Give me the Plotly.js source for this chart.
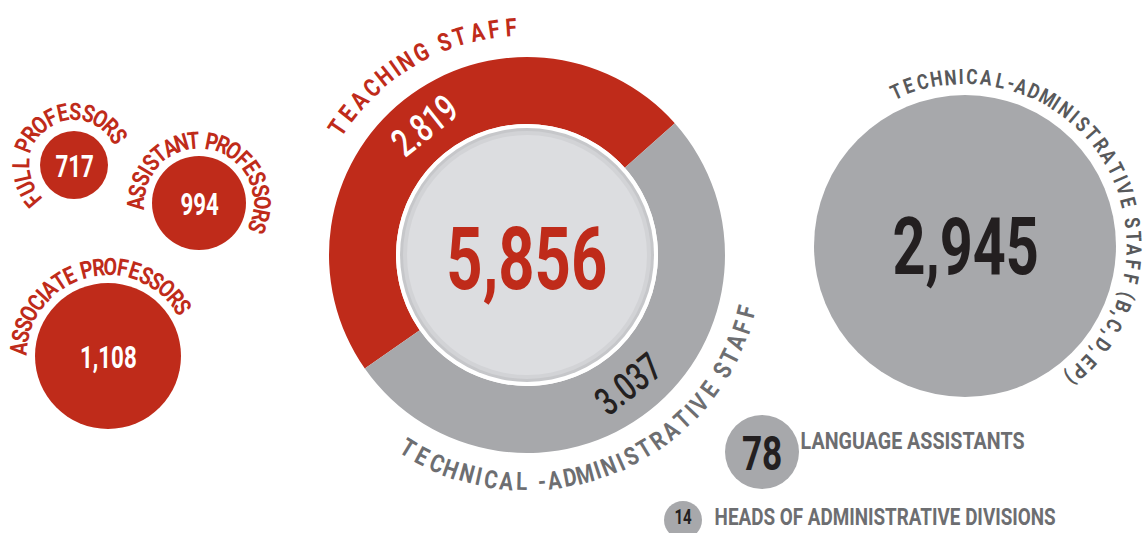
<!DOCTYPE html>
<html>
<head>
<meta charset="utf-8">
<script src="https://cdn.plot.ly/plotly-3.0.1.min.js"></script>
<style>
html,body{margin:0;padding:0;background:#fff;}
#chart{width:1147px;height:533px;}
/* condense all annotation text (DIN-condensed look) */
#chart .annotation-text{transform-box:fill-box;transform-origin:center;transform:scaleX(0.72);}
</style>
</head>
<body>
<div id="chart"></div>
<script>
// ---------------- data ----------------
const donutLabels = ['TEACHING STAFF', 'TECHNICAL -ADMINISTRATIVE STAFF'];
const donutValues = [2819, 3037];
const totalValue = 5856;

const teachingLabels = ['FULL PROFESSORS', 'ASSISTANT PROFESSORS', 'ASSOCIATE PROFESSORS'];
const teachingValues = [717, 994, 1108];

const techLabels = ['TECHNICAL-ADMINISTRATIVE STAFF (B,C,D,EP)', 'LANGUAGE ASSISTANTS', 'HEADS OF ADMINISTRATIVE DIVISIONS'];
const techValues = [2945, 78, 14];

// ---------------- layout / style ----------------
const W = 1147, H = 533;
const RED = '#bf2b1a', GRAY = '#a7a8ab', DARK = '#231f20', TXTGRAY = '#6d6e71';
const FONT = "Roboto, 'DejaVu Sans Condensed', sans-serif";
const LABEL_SCALE = 0.82;

const donut = {cx: 527, cy: 255, r: 198, hole: 131, inner: 127, rotation: -125, labelR: 165};
const teachPos = [{x: 74, y: 165, r: 34, fs: 31, ty: 166}, {x: 199, y: 203, r: 47, fs: 31, ty: 204}, {x: 108, y: 356, r: 73, fs: 31, ty: 357}];
const techPos = [{x: 965, y: 246, r: 151, fs: 80, ty: 247}, {x: 762, y: 452, r: 37, fs: 49, ty: 453}, {x: 683, y: 520, r: 19, fs: 21, ty: 517}];

const fmt = v => v.toLocaleString('en-US');
const fmtDot = v => v.toLocaleString('en-US').replace(/,/g, '.');

const annScale = [];
function ann(x, y, text, size, color, weight, angle, scale) {
  annScale.push(scale || null);
  return {x: x, y: y, xref: 'x', yref: 'y', text: text, showarrow: false, textangle: angle || 0,
    xanchor: 'center', yanchor: 'middle', borderpad: 0,
    font: {family: FONT, size: size, color: color, weight: weight}};
}

function arcLetters(str, cx, cy, r, a0, a1, size, color, inward, weight) {
  const chars = [...str];
  const w = chars.map(c => c === ' ' ? 0.45 : (/[I\.,\-\(\)1]/.test(c) ? 0.55 : 1));
  const pos = []; let acc = 0;
  for (let i = 0; i < w.length; i++) { pos.push(acc + w[i] / 2); acc += w[i]; }
  const first = pos[0], last = pos[pos.length - 1];
  const out = [];
  chars.forEach((c, i) => {
    if (c === ' ') return;
    const t = (pos[i] - first) / (last - first);
    const a = a0 + (a1 - a0) * t;
    const rad = a * Math.PI / 180;
    let ang = inward ? a - 180 : a;
    while (ang > 180) ang -= 360;
    while (ang < -180) ang += 360;
    out.push(ann(cx + r * Math.sin(rad), cy - r * Math.cos(rad), c, size, color, weight, ang, LABEL_SCALE));
  });
  return out;
}

let annotations = [];
// curved labels
annotations = annotations.concat(arcLetters(donutLabels[0], donut.cx, donut.cy, 228, -56, -4, 25, RED, false, 700));
annotations = annotations.concat(arcLetters(donutLabels[1], donut.cx, donut.cy, 227, 211.5, 104.5, 25, TXTGRAY, true, 700));
annotations = annotations.concat(arcLetters(teachingLabels[0], teachPos[0].x, teachPos[0].y, 53, -130.5, 57.5, 24, RED, false, 700));
annotations = annotations.concat(arcLetters(teachingLabels[1], teachPos[1].x, teachPos[1].y, 62.5, -90, 112.5, 24, RED, false, 700));
annotations = annotations.concat(arcLetters(teachingLabels[2], teachPos[2].x, teachPos[2].y, 89, -85, 57, 24, RED, false, 700));
annotations = annotations.concat(arcLetters(techLabels[0], techPos[0].x, techPos[0].y, 169, -24, 141.4, 21, '#58595b', false, 700));

// donut slice values at slice mid-angles (computed from the data)
const tot = donutValues.reduce((a, b) => a + b, 0);
let startA = donut.rotation;
donutValues.forEach((v, i) => {
  const span = v / tot * 360;
  const mid = startA + span / 2;
  startA += span;
  const rad = mid * Math.PI / 180;
  let m = ((mid % 360) + 360) % 360;
  const inward = m > 90 && m < 270;
  let ang = inward ? m - 180 : (m > 180 ? m - 360 : m);
  annotations.push(ann(donut.cx + donut.labelR * Math.sin(rad), donut.cy - donut.labelR * Math.cos(rad),
    fmtDot(v), 39, i === 0 ? '#ffffff' : DARK, 500, ang));
});

// center total
annotations.push(ann(donut.cx, donut.cy + 3, fmt(totalValue), 88, RED, 700));
// bubble values
teachPos.forEach((p, i) => annotations.push(ann(p.x, p.ty, fmt(teachingValues[i]), p.fs, '#ffffff', 700)));
techPos.forEach((p, i) => annotations.push(ann(p.x, p.ty, fmt(techValues[i]), p.fs, DARK, 700)));
// straight labels
annotations.push(ann(912, 441, techLabels[1], 24, TXTGRAY, 700, 0, LABEL_SCALE));
annotations.push(ann(885, 517, techLabels[2], 23, TXTGRAY, 700, 0, LABEL_SCALE));

const shapes = [
  {type: 'circle', xref: 'x', yref: 'y', x0: donut.cx - donut.hole, x1: donut.cx + donut.hole, y0: donut.cy - donut.hole, y1: donut.cy + donut.hole, fillcolor: '#ffffff', line: {width: 0}, layer: 'above'},
  {type: 'circle', xref: 'x', yref: 'y', x0: donut.cx - donut.inner, x1: donut.cx + donut.inner, y0: donut.cy - donut.inner, y1: donut.cy + donut.inner, fillcolor: '#c6c7ca', line: {width: 0}, layer: 'above'},
  {type: 'circle', xref: 'x', yref: 'y', x0: donut.cx - donut.inner + 3, x1: donut.cx + donut.inner - 3, y0: donut.cy - donut.inner + 3, y1: donut.cy + donut.inner - 3, fillcolor: '#d2d3d6', line: {width: 0}, layer: 'above'},
  {type: 'circle', xref: 'x', yref: 'y', x0: donut.cx - donut.inner + 7, x1: donut.cx + donut.inner - 7, y0: donut.cy - donut.inner + 7, y1: donut.cy + donut.inner - 7, fillcolor: '#dcdde0', line: {width: 0}, layer: 'above'}
];

const pie = {
  type: 'pie', labels: donutLabels, values: donutValues, sort: false, direction: 'clockwise', rotation: donut.rotation,
  hole: donut.hole / donut.r,
  domain: {x: [(donut.cx - donut.r) / W, (donut.cx + donut.r) / W], y: [(H - donut.cy - donut.r) / H, (H - donut.cy + donut.r) / H]},
  marker: {colors: [RED, GRAY], line: {width: 0}},
  textinfo: 'none', hoverinfo: 'skip', showlegend: false
};

const teachTrace = {
  type: 'scatter', mode: 'markers', x: teachPos.map(p => p.x), y: teachPos.map(p => p.y),
  text: teachingLabels, customdata: teachingValues,
  marker: {size: teachPos.map(p => 2 * p.r), color: RED, line: {width: 0}, opacity: 1},
  hoverinfo: 'skip', showlegend: false, cliponaxis: false
};
const techTrace = {
  type: 'scatter', mode: 'markers', x: techPos.map(p => p.x), y: techPos.map(p => p.y),
  text: techLabels, customdata: techValues,
  marker: {size: techPos.map(p => 2 * p.r), color: GRAY, line: {width: 0}, opacity: 1},
  hoverinfo: 'skip', showlegend: false, cliponaxis: false
};

const layout = {
  width: W, height: H, margin: {l: 0, r: 0, t: 0, b: 0, pad: 0},
  paper_bgcolor: '#ffffff', plot_bgcolor: 'rgba(0,0,0,0)',
  xaxis: {range: [0, W], visible: false, fixedrange: true},
  yaxis: {range: [H, 0], visible: false, fixedrange: true},
  showlegend: false, annotations: annotations, shapes: shapes
};

Plotly.newPlot('chart', [teachTrace, techTrace, pie], layout, {staticPlot: true, displayModeBar: false}).then(() => {
  document.querySelectorAll('#chart g.annotation').forEach(g => {
    const idx = +g.getAttribute('data-index');
    const s = annScale[idx];
    if (s) {
      const t = g.querySelector('text.annotation-text');
      if (t) t.style.transform = 'scaleX(' + s + ')';
    }
  });
});
</script>
</body>
</html>
